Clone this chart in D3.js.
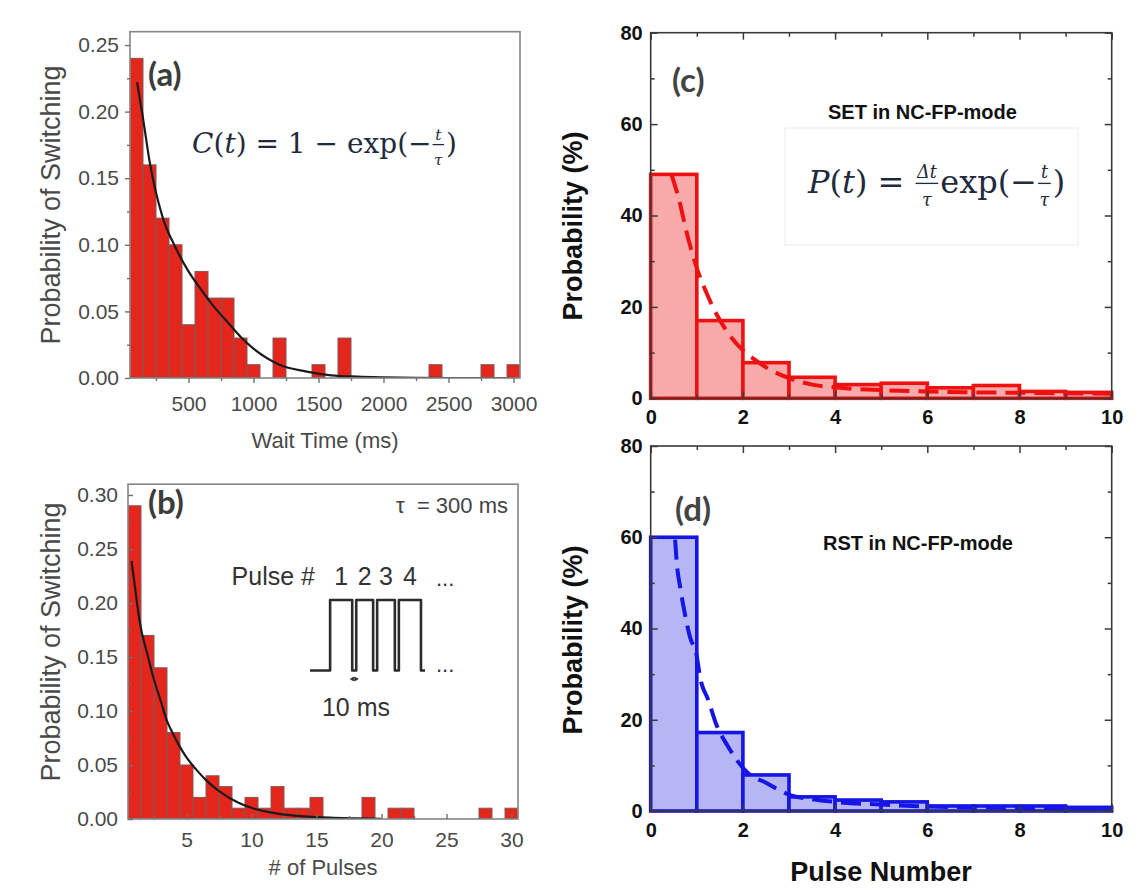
<!DOCTYPE html>
<html>
<head>
<meta charset="utf-8">
<script src="https://cdn.jsdelivr.net/npm/d3@7"></script>
<style>
  body { margin: 0; background: #fff; }
  svg { display: block; }
</style>
</head>
<body>
<svg id="fig" width="1136" height="888"></svg>
<script>
// ---------- (a) switching probability vs. wait time ----------
const waitTimes = [100, 200, 300, 400, 500, 600, 700, 800, 900, 1000, 1200, 1500, 1700, 2400, 2800, 3000];
const waitProb  = [0.24, 0.16, 0.12, 0.10, 0.04, 0.08, 0.06, 0.06, 0.03, 0.01, 0.03, 0.01, 0.03, 0.01, 0.01, 0.01];
const waitFitT  = [105, 150, 200, 300, 400, 500, 600, 700, 800, 900, 1000, 1200, 1400, 1600, 1800, 2000, 2500, 3000];
const waitFitP  = [0.222, 0.195, 0.163, 0.121, 0.098, 0.080, 0.066, 0.053, 0.042, 0.031, 0.022, 0.010, 0.005, 0.002, 0.001, 0.0005, 0, 0];
const waitTicks = [500, 1000, 1500, 2000, 2500, 3000];
const waitMinor = [250, 750, 1250, 1750, 2250, 2750];
const probTicksA = [0, 0.05, 0.10, 0.15, 0.20, 0.25];
const probMinorA = [0.025, 0.075, 0.125, 0.175, 0.225];

// ---------- (b) switching probability vs. number of pulses ----------
const pulseCounts = [1, 2, 3, 4, 5, 6, 7, 8, 9, 10, 11, 12, 13, 14, 15, 19, 21, 22, 28, 30];
const pulseProb   = [0.29, 0.17, 0.14, 0.08, 0.05, 0.02, 0.04, 0.03, 0.01, 0.02, 0.01, 0.03, 0.01, 0.01, 0.02, 0.02, 0.01, 0.01, 0.01, 0.01];
const pulseFitN   = [0.77, 1.0, 1.41, 2.0, 2.43, 3.0, 3.46, 4.0, 4.48, 5.0, 5.77, 6.5, 7.56, 9.0, 10.1, 12, 14, 16, 18, 20];
const pulseFitP   = [0.239, 0.218, 0.182, 0.152, 0.132, 0.110, 0.092, 0.078, 0.067, 0.057, 0.0455, 0.036, 0.0254, 0.015, 0.0099, 0.005, 0.0025, 0.0012, 0.0006, 0.0002];
const pulseTicks  = [5, 10, 15, 20, 25, 30];
const pulseMinor  = [2.5, 7.5, 12.5, 17.5, 22.5, 27.5];
const probTicksB  = [0, 0.05, 0.10, 0.15, 0.20, 0.25, 0.30];
const probMinorB  = [0.025, 0.075, 0.125, 0.175, 0.225, 0.275];

// pulse-train sketch (ms): lead-in, pulse widths, 10 ms gaps, tail
const trainLeadMs   = 50;
const trainWidthsMs = [55, 42, 44, 55];
const trainGapMs    = 10;
const trainTailMs   = 10;
const trainLabels   = ["1", "2", "3", "4"];

// ---------- (c)/(d) pulse-number distributions (%) ----------
const pulseBins = [0, 1, 2, 3, 4, 5, 6, 7, 8, 9];
const setProb   = [49, 17, 7.8, 4.6, 3.0, 3.3, 2.3, 2.8, 1.5, 1.3];
const rstProb   = [60, 17.2, 7.9, 3.1, 2.4, 2.0, 1.1, 1.1, 1.1, 0.8];
const setFitX   = [0.45, 0.6, 0.8, 1.0, 1.2, 1.45, 1.75, 2.0, 2.25, 2.6, 3.0, 3.5, 4.0, 5.0, 6.0, 7.0, 8.0, 9.0, 10.0];
const setFitY   = [49, 44, 35.5, 28.5, 23.3, 18, 13.3, 10.5, 8.5, 6.2, 4.4, 3.0, 2.4, 1.8, 1.5, 1.3, 1.2, 1.1, 1.0];
const rstFitX   = [0.53, 0.56, 0.64, 0.74, 0.85, 1.0, 1.07, 1.25, 1.43, 1.68, 2.08, 2.52, 3.02, 3.5, 4, 5, 6, 7, 8, 9, 10];
const rstFitY   = [59.5, 55, 49, 43.3, 38.2, 33.9, 29.4, 24.3, 18.8, 14.1, 8.6, 6.1, 3.5, 2.6, 2.0, 1.4, 1.0, 0.8, 0.7, 0.6, 0.5];
const pctTicks    = [0, 20, 40, 60, 80];
const pctMinor    = [10, 30, 50, 70];
const pulseNTicks = [0, 2, 4, 6, 8, 10];
const pulseNMinor = [1, 3, 5, 7, 9];

const SANS  = "'Liberation Sans', Arial, Helvetica, sans-serif";
const SERIF = "'DejaVu Serif', 'Liberation Serif', serif";
const LABEL = "Lato, 'Open Sans', 'Liberation Sans', sans-serif";

const svg = d3.select("#fig");
let clipId = 0;

function cleanAxis(sel) {
  sel.attr("font-family", null).attr("font-size", null);
  sel.select(".domain").remove();
}

// ---- left-hand histograms, (a) and (b) ----
function drawLeft(o) {
  const g = svg.append("g");
  const [xa, xb] = o.x.range();
  const [yb, ya] = o.y.range();
  const id = "clip" + (clipId++);
  g.append("clipPath").attr("id", id)
    .append("rect").attr("x", xa).attr("y", ya).attr("width", xb - xa).attr("height", yb - ya);
  const plot = g.append("g").attr("clip-path", `url(#${id})`);

  plot.selectAll("rect.bar").data(o.centers.map((c, i) => ({ c, v: o.values[i] })))
    .join("rect").attr("class", "bar")
    .attr("x", d => o.x(d.c - o.binW / 2))
    .attr("width", d => o.x(d.c + o.binW / 2) - o.x(d.c - o.binW / 2))
    .attr("y", d => o.y(d.v))
    .attr("height", d => o.y(0) - o.y(d.v))
    .attr("fill", "#e5261d")
    .attr("stroke", "#7d5a58")
    .attr("stroke-width", 1);

  const line = d3.line().x(d => o.x(d[0])).y(d => o.y(d[1])).curve(d3.curveMonotoneX);
  plot.append("path")
    .datum(o.fitX.map((t, i) => [t, o.fitY[i]]))
    .attr("d", line).attr("fill", "none")
    .attr("stroke", "#1b1b1b").attr("stroke-width", 2.2);

  g.append("rect").attr("x", xa).attr("y", ya).attr("width", xb - xa).attr("height", yb - ya)
    .attr("fill", "none").attr("stroke", "#858585").attr("stroke-width", 1.6);

  const ts = o.inward ? -5 : 5, tm = o.inward ? -3 : 3;
  const gx = g.append("g").attr("transform", `translate(0,${yb})`)
    .call(d3.axisBottom(o.x).tickValues(o.xTicks).tickSize(ts).tickPadding(o.xPad).tickFormat(d3.format("d")))
    .call(cleanAxis);
  g.append("g").attr("transform", `translate(0,${yb})`)
    .call(d3.axisBottom(o.x).tickValues(o.xMinor).tickSize(tm).tickFormat(""))
    .call(cleanAxis);
  const gy = g.append("g").attr("transform", `translate(${xa},0)`)
    .call(d3.axisLeft(o.y).tickValues(o.yTicks).tickSize(ts).tickPadding(o.yPad).tickFormat(d3.format(".2f")))
    .call(cleanAxis);
  g.append("g").attr("transform", `translate(${xa},0)`)
    .call(d3.axisLeft(o.y).tickValues(o.yMinor).tickSize(tm).tickFormat(""))
    .call(cleanAxis);
  g.selectAll(".tick line").attr("stroke", "#707070").attr("stroke-width", 1.4);
  [gx, gy].forEach(a => a.selectAll("text")
    .attr("font-family", SANS).attr("font-size", 21).attr("fill", "#4a4a4a"));

  g.append("text").attr("x", (xa + xb) / 2).attr("y", o.xTitleY)
    .attr("text-anchor", "middle").attr("font-family", SANS).attr("font-size", 22)
    .attr("fill", "#4a4a4a").text(o.xTitle);
  g.append("text")
    .attr("transform", `translate(${o.yTitleX},${o.yTitleY}) rotate(-90)`)
    .attr("text-anchor", "middle").attr("font-family", SANS).attr("font-size", 27)
    .attr("fill", "#4a4a4a").text("Probability of Switching");
  g.append("text").attr("x", o.tagX).attr("y", o.tagY)
    .attr("font-family", LABEL).attr("font-weight", 700).attr("font-size", 33)
    .attr("fill", "#3c3c3c").text(o.tag);
  return g;
}

// ---- right-hand step histograms, (c) and (d) ----
function drawRight(o) {
  const g = svg.append("g");
  const [xa, xb] = o.x.range();
  const [yb, ya] = o.y.range();

  g.selectAll("rect.bin").data(pulseBins.map((b, i) => ({ b, v: o.values[i] })))
    .join("rect").attr("class", "bin")
    .attr("x", d => o.x(d.b))
    .attr("width", d => o.x(d.b + 1) - o.x(d.b))
    .attr("y", d => o.y(d.v))
    .attr("height", d => o.y(0) - o.y(d.v))
    .attr("fill", o.fill).attr("stroke", o.color).attr("stroke-width", 3.6);

  const line = d3.line().x(d => o.x(d[0])).y(d => o.y(d[1])).curve(d3.curveMonotoneX);
  g.append("path")
    .datum(o.fitX.map((t, i) => [t, o.fitY[i]]))
    .attr("d", line).attr("fill", "none")
    .attr("stroke", o.color).attr("stroke-width", 4)
    .attr("stroke-dasharray", "20 9");

  g.append("rect").attr("x", xa).attr("y", ya).attr("width", xb - xa).attr("height", yb - ya)
    .attr("fill", "none").attr("stroke", "#3a3a3a").attr("stroke-width", 1.6);

  const mk = (axisFn, pos, vals, size, labels) => {
    const ax = axisFn(axisFn === d3.axisBottom || axisFn === d3.axisTop ? o.x : o.y)
      .tickValues(vals).tickSize(size).tickPadding(labels ? 8 : 0)
      .tickFormat(labels ? d3.format("d") : "");
    return g.append("g").attr("transform", pos).call(ax).call(cleanAxis);
  };
  const gx = mk(d3.axisBottom, `translate(0,${yb})`, pulseNTicks, -7, true);
  mk(d3.axisBottom, `translate(0,${yb})`, pulseNMinor, -4, false);
  mk(d3.axisTop, `translate(0,${ya})`, pulseNTicks, -7, false);
  mk(d3.axisTop, `translate(0,${ya})`, pulseNMinor, -4, false);
  const gy = mk(d3.axisLeft, `translate(${xa},0)`, pctTicks, -7, true);
  mk(d3.axisLeft, `translate(${xa},0)`, pctMinor, -4, false);
  mk(d3.axisRight, `translate(${xb},0)`, pctTicks, -7, false);
  mk(d3.axisRight, `translate(${xb},0)`, pctMinor, -4, false);
  g.selectAll(".tick line").attr("stroke", "#3a3a3a").attr("stroke-width", 1.5);
  gx.selectAll("text").attr("dy", null).attr("y", 26);
  [gx, gy].forEach(a => a.selectAll("text")
    .attr("font-family", SANS).attr("font-weight", 700).attr("font-size", 20).attr("fill", "#111"));

  g.append("text")
    .attr("transform", `translate(582,${o.yTitleY}) rotate(-90)`)
    .attr("text-anchor", "middle").attr("font-family", SANS).attr("font-weight", 700)
    .attr("font-size", 27).attr("fill", "#111").text("Probability (%)");
  g.append("text").attr("x", o.tagX).attr("y", o.tagY)
    .attr("font-family", LABEL).attr("font-weight", 700).attr("font-size", 33)
    .attr("fill", "#444").text(o.tag);
  g.append("text").attr("x", o.modeX).attr("y", o.modeY)
    .attr("font-family", SANS).attr("font-weight", 700).attr("font-size", 20)
    .attr("fill", "#111").text(o.mode);
  return g;
}

// ---- inline math: runs of text and stacked fractions ----
function mathText(g, x0, y0, size, parts) {
  let x = x0;
  parts.forEach(p => {
    if (p.frac) {
      const fs = size * 0.55;
      const num = g.append("text").attr("font-family", SERIF).attr("font-style", "italic")
        .attr("font-size", fs).attr("fill", "#1f2a3c").attr("text-anchor", "middle").text(p.frac[0]);
      const den = g.append("text").attr("font-family", SERIF).attr("font-style", "italic")
        .attr("font-size", fs).attr("fill", "#1f2a3c").attr("text-anchor", "middle").text(p.frac[1]);
      const w = Math.max(num.node().getComputedTextLength(), den.node().getComputedTextLength()) + 3;
      num.attr("x", x + 1 + w / 2).attr("y", y0 - size * 0.48);
      den.attr("x", x + 1 + w / 2).attr("y", y0 + size * 0.42);
      g.append("line").attr("x1", x + 1).attr("x2", x + 1 + w)
        .attr("y1", y0 - size * 0.3).attr("y2", y0 - size * 0.3)
        .attr("stroke", "#1f2a3c").attr("stroke-width", 1.3);
      x += w + 3;
    } else {
      const t = g.append("text").attr("x", x).attr("y", y0)
        .attr("font-family", SERIF).attr("font-style", p.i ? "italic" : "normal")
        .attr("font-size", size).attr("fill", "#1f2a3c")
        .attr("xml:space", "preserve").style("white-space", "pre").text(p.t);
      x += t.node().getComputedTextLength();
    }
  });
  return x;
}

// ================= panel (a) =================
const xA = d3.scaleLinear().domain([50, 3050]).range([130, 520]);
const yA = d3.scaleLinear().domain([0, 0.26]).range([378, 31.7]);
const gA = drawLeft({
  x: xA, y: yA, centers: waitTimes, values: waitProb, binW: 100,
  fitX: waitFitT, fitY: waitFitP,
  xTicks: waitTicks, xMinor: waitMinor, yTicks: probTicksA, yMinor: probMinorA,
  inward: false, xPad: 13, yPad: 6,
  xTitle: "Wait Time (ms)", xTitleY: 448, yTitleX: 60, yTitleY: 205,
  tag: "(a)", tagX: 148, tagY: 86
});
mathText(gA, 192, 153, 28, [
  { t: "C", i: true }, { t: "(" }, { t: "t", i: true }, { t: ") = 1 − exp(−" },
  { frac: ["t", "τ"] }, { t: ")" }
]);

// ================= panel (b) =================
const xB = d3.scaleLinear().domain([0.5, 30.5]).range([128, 518]);
const yB = d3.scaleLinear().domain([0, 0.31]).range([819, 484.2]);
const gB = drawLeft({
  x: xB, y: yB, centers: pulseCounts, values: pulseProb, binW: 1,
  fitX: pulseFitN, fitY: pulseFitP,
  xTicks: pulseTicks, xMinor: pulseMinor, yTicks: probTicksB, yMinor: probMinorB,
  inward: true, xPad: 13, yPad: 10,
  xTitle: "# of Pulses", xTitleY: 875, yTitleX: 60, yTitleY: 642,
  tag: "(b)", tagX: 148, tagY: 514
});
gB.append("text").attr("x", 508).attr("y", 513).attr("text-anchor", "end")
  .attr("font-family", SANS).attr("font-size", 22).attr("fill", "#444")
  .attr("xml:space", "preserve").style("white-space", "pre").text("τ  = 300 ms");

// pulse-train sketch
const trainTotal = trainLeadMs + d3.sum(trainWidthsMs) + trainGapMs * (trainWidthsMs.length - 1) + trainTailMs;
const tX = d3.scaleLinear().domain([0, trainTotal]).range([310, 425]);
const tY = d3.scaleLinear().domain([0, 1]).range([670.5, 600]);
const trainPts = [[0, 0]];
let tCur = trainLeadMs;
const pulseMid = [];
trainWidthsMs.forEach((w, i) => {
  trainPts.push([tCur, 0], [tCur, 1], [tCur + w, 1], [tCur + w, 0]);
  pulseMid.push(tCur + w / 2);
  tCur += w;
  if (i < trainWidthsMs.length - 1) tCur += trainGapMs;
});
trainPts.push([tCur + trainTailMs, 0]);
gB.append("path")
  .attr("d", d3.line().x(d => tX(d[0])).y(d => tY(d[1]))(trainPts))
  .attr("fill", "none").attr("stroke", "#2b2b2b").attr("stroke-width", 2.6)
  .attr("stroke-linejoin", "round");
gB.selectAll("text.pn").data(trainLabels).join("text").attr("class", "pn")
  .attr("x", (d, i) => tX(pulseMid[i])).attr("y", 585).attr("text-anchor", "middle")
  .attr("font-family", SANS).attr("font-size", 25).attr("fill", "#333").text(d => d);
gB.append("text").attr("x", 315).attr("y", 585).attr("text-anchor", "end")
  .attr("font-family", SANS).attr("font-size", 25).attr("fill", "#333").text("Pulse #");
gB.append("text").attr("x", 436).attr("y", 586).attr("font-family", SANS)
  .attr("font-size", 22).attr("fill", "#333").text("...");
gB.append("text").attr("x", 436).attr("y", 672).attr("font-family", SANS)
  .attr("font-size", 22).attr("fill", "#333").text("...");
// 10 ms gap marker
const gapA = tX(trainLeadMs + trainWidthsMs[0]), gapB = gapA + (tX(trainGapMs) - tX(0));
gB.append("path")
  .attr("d", `M${gapA - 2},679 L${gapA + 1.5},677 L${gapA + 1.5},681 Z M${gapB + 2},679 L${gapB - 1.5},677 L${gapB - 1.5},681 Z`)
  .attr("fill", "#333").attr("stroke", "#333").attr("stroke-width", 0.8);
gB.append("text").attr("x", 356).attr("y", 716).attr("text-anchor", "middle")
  .attr("font-family", SANS).attr("font-size", 25).attr("fill", "#333").text("10 ms");

// ================= panel (c) =================
const xC = d3.scaleLinear().domain([0, 10]).range([650.7, 1111.7]);
const yC = d3.scaleLinear().domain([0, 80]).range([398.3, 32.7]);
const gC = drawRight({
  x: xC, y: yC, values: setProb, fitX: setFitX, fitY: setFitY,
  color: "#ee1111", fill: "#f8a9a9",
  yTitleY: 226, tag: "(c)", tagX: 672, tagY: 92,
  mode: "SET in NC-FP-mode", modeX: 828, modeY: 119
});
gC.append("rect").attr("x", 785).attr("y", 128).attr("width", 293).attr("height", 117)
  .attr("fill", "#fff").attr("stroke", "#ececec").attr("stroke-width", 1);
mathText(gC, 808, 193, 32, [
  { t: "P", i: true }, { t: "(" }, { t: "t", i: true }, { t: ") = " },
  { frac: ["Δt", "τ"] }, { t: "exp(−" }, { frac: ["t", "τ"] }, { t: ")" }
]);

// ================= panel (d) =================
const xD = d3.scaleLinear().domain([0, 10]).range([650.7, 1111.7]);
const yD = d3.scaleLinear().domain([0, 80]).range([811, 446]);
const gD = drawRight({
  x: xD, y: yD, values: rstProb, fitX: rstFitX, fitY: rstFitY,
  color: "#1515e6", fill: "#b6b6f4",
  yTitleY: 640, tag: "(d)", tagX: 675, tagY: 521,
  mode: "RST in NC-FP-mode", modeX: 823, modeY: 550
});
gD.append("text").attr("x", 881).attr("y", 881).attr("text-anchor", "middle")
  .attr("font-family", SANS).attr("font-weight", 700).attr("font-size", 27)
  .attr("fill", "#111").text("Pulse Number");
</script>
</body>
</html>
